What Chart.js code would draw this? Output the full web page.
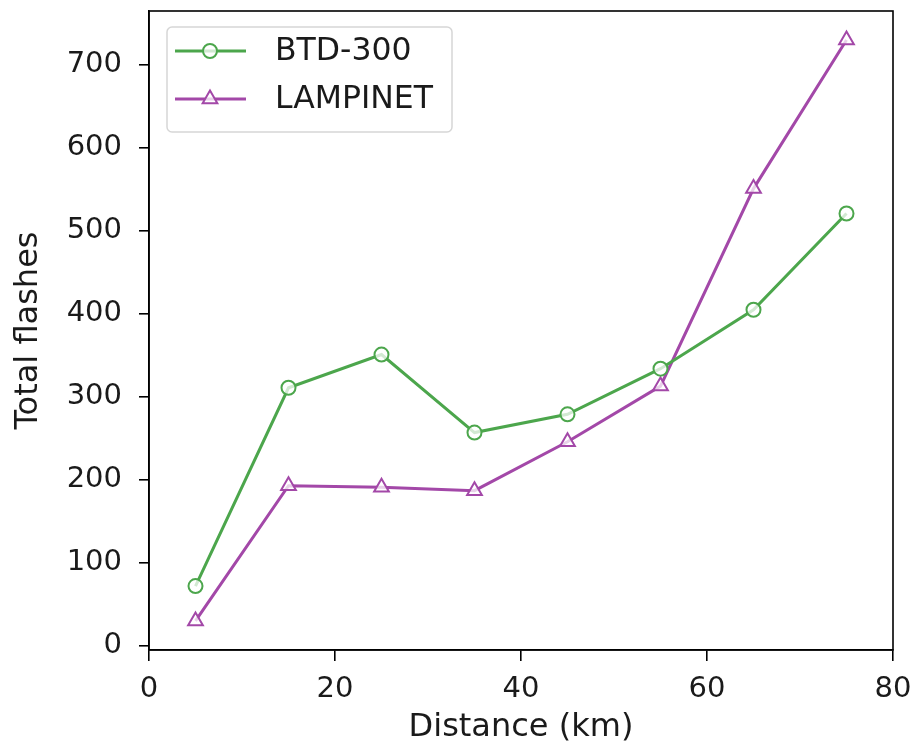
<!DOCTYPE html>
<html>
<head>
<meta charset="utf-8">
<script src="https://cdn.jsdelivr.net/npm/chart.js@4/dist/chart.umd.min.js"></script>
<style>
  html, body { margin: 0; padding: 0; background: #fff; }
  #wrap { width: 913px; height: 747px; }
</style>
</head>
<body>
<div id="wrap"><canvas id="c" width="913" height="747"></canvas></div>
<script>
// Distance bins (km) and flash counts per network
const distances = [5, 15, 25, 35, 45, 55, 65, 75];
const btd300 = [72, 311, 351, 257, 279, 334, 405, 521];
const lampinet = [30, 193, 191, 187, 246, 313, 551, 730];
const xTicks = [0, 20, 40, 60, 80];
const yTicks = [0, 100, 200, 300, 400, 500, 600, 700];
const seriesNames = ['BTD-300', 'LAMPINET'];

const GREEN = 'rgb(76,166,76)';
const PURPLE = 'rgb(163,72,168)';
const FONT = 'DejaVu Sans';
const TEXT = '#1a1a1a';

// Frame around the plot area (all four spines)
const framePlugin = {
  id: 'frame',
  afterDatasetsDraw(chart) {
    const { ctx, chartArea: a } = chart;
    ctx.save();
    ctx.strokeStyle = '#000';
    ctx.lineWidth = 1.6;
    ctx.strokeRect(a.left, a.top, a.right - a.left, a.bottom - a.top);
    ctx.restore();
  }
};

// Legend box drawn inside the upper-left corner of the plot
const insetLegend = {
  id: 'insetLegend',
  afterDraw(chart) {
    const { ctx, chartArea: a } = chart;
    const bx = a.left + 18, by = a.top + 16, bw = 285, bh = 105;
    ctx.save();
    ctx.beginPath();
    ctx.roundRect(bx, by, bw, bh, 5);
    ctx.fillStyle = 'rgba(255,255,255,0.8)';
    ctx.fill();
    ctx.strokeStyle = 'rgba(204,204,204,0.8)';
    ctx.lineWidth = 1.5;
    ctx.stroke();
    chart.data.datasets.forEach((ds, i) => {
      const y = by + 24 + i * 48;
      ctx.strokeStyle = ds.borderColor;
      ctx.lineWidth = ds.borderWidth;
      ctx.beginPath();
      ctx.moveTo(bx + 8, y);
      ctx.lineTo(bx + 79, y);
      ctx.stroke();
      ctx.fillStyle = ds.pointBackgroundColor;
      ctx.strokeStyle = ds.pointBorderColor;
      ctx.lineWidth = ds.pointBorderWidth;
      Chart.helpers.drawPoint(ctx, {
        pointStyle: ds.pointStyle,
        radius: ds.pointRadius,
        rotation: 0,
        borderWidth: ds.pointBorderWidth
      }, bx + 43, y);
      ctx.fillStyle = TEXT;
      ctx.font = '31.5px "' + FONT + '"';
      ctx.textBaseline = 'middle';
      ctx.textAlign = 'left';
      ctx.fillText(ds.label, bx + 108, y + 1);
    });
    ctx.restore();
  }
};

const toPoints = (ys) => distances.map((x, i) => ({ x, y: ys[i] }));

new Chart(document.getElementById('c'), {
  type: 'line',
  data: {
    datasets: [
      {
        label: seriesNames[0],
        data: toPoints(btd300),
        borderColor: GREEN,
        borderWidth: 3,
        pointStyle: 'circle',
        pointRadius: 7,
        pointBorderWidth: 2,
        pointBorderColor: GREEN,
        pointBackgroundColor: 'rgba(255,255,255,0.75)',
        tension: 0
      },
      {
        label: seriesNames[1],
        data: toPoints(lampinet),
        borderColor: PURPLE,
        borderWidth: 3,
        pointStyle: 'triangle',
        pointRadius: 8.5,
        pointBorderWidth: 2,
        pointBorderColor: PURPLE,
        pointBackgroundColor: 'rgba(255,255,255,0.75)',
        tension: 0
      }
    ]
  },
  options: {
    responsive: false,
    animation: false,
    devicePixelRatio: 1,
    layout: { padding: { top: 11, right: 20, left: 0, bottom: 0 } },
    plugins: {
      legend: { display: false },
      tooltip: { enabled: false }
    },
    scales: {
      x: {
        type: 'linear',
        min: 0,
        max: 80,
        afterBuildTicks: (s) => { s.ticks = xTicks.map(v => ({ value: v })); },
        afterFit: (s) => { s.height = 97; s.paddingLeft = 0; s.paddingRight = 0; },
        grid: { drawOnChartArea: false, color: '#000', lineWidth: 1.6, tickLength: 11 },
        border: { color: '#000', width: 1.6 },
        ticks: { color: TEXT, font: { family: FONT, size: 29 }, padding: 11, maxRotation: 0 },
        title: {
          display: true,
          text: 'Distance (km)',
          color: TEXT,
          font: { family: FONT, size: 32 },
          padding: { top: -5, bottom: 0 }
        }
      },
      y: {
        type: 'linear',
        min: -5,
        max: 765,
        afterBuildTicks: (s) => { s.ticks = yTicks.map(v => ({ value: v })); },
        afterFit: (s) => { s.width = 149; s.paddingTop = 0; s.paddingBottom = 0; },
        grid: { drawOnChartArea: false, color: '#000', lineWidth: 1.6, tickLength: 10 },
        border: { color: '#000', width: 1.6 },
        ticks: { color: TEXT, font: { family: FONT, size: 29 }, padding: 17 },
        title: {
          display: true,
          text: 'Total flashes',
          color: TEXT,
          font: { family: FONT, size: 32 },
          padding: { top: 9, bottom: 0 }
        }
      }
    }
  },
  plugins: [framePlugin, insetLegend]
});
</script>
</body>
</html>
